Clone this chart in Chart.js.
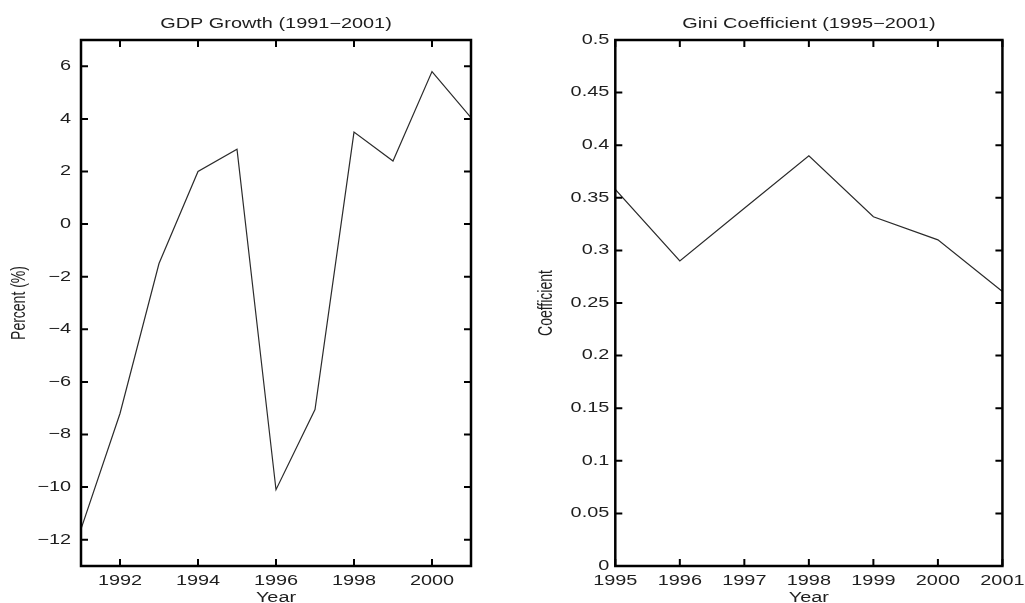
<!DOCTYPE html>
<html>
<head>
<meta charset="utf-8">
<script src="https://cdn.jsdelivr.net/npm/chart.js@4.4.1/dist/chart.umd.min.js"></script>
<style>
  html, body { margin: 0; padding: 0; background: #fff; width: 1025px; height: 603px; overflow: hidden; }
  .box { position: absolute; top: 0; width: 510px; height: 603px; }
  #boxL { left: 0; }
  #boxR { left: 515px; }
</style>
</head>
<body>
<div class="box" id="boxL"><canvas id="gdp"></canvas></div>
<div class="box" id="boxR"><canvas id="gini"></canvas></div>
<script>
// ---- data ----
const gdpYears = [1991, 1992, 1993, 1994, 1995, 1996, 1997, 1998, 1999, 2000, 2001];
const gdpGrowth = [-11.6, -7.2, -1.5, 2.0, 2.85, -10.1, -7.05, 3.5, 2.4, 5.8, 4.05];
const gdpXTicks = [1992, 1994, 1996, 1998, 2000];
const gdpYTicks = [-12, -10, -8, -6, -4, -2, 0, 2, 4, 6];

const giniYears = [1995, 1996, 1997, 1998, 1999, 2000, 2001];
const giniValues = [0.358, 0.29, 0.34, 0.39, 0.332, 0.31, 0.261];
const giniXTicks = [1995, 1996, 1997, 1998, 1999, 2000, 2001];
const giniYTicks = [0, 0.05, 0.1, 0.15, 0.2, 0.25, 0.3, 0.35, 0.4, 0.45, 0.5];

const FONT = "'Liberation Sans', Arial, Helvetica, sans-serif";
const TEXT = '#1e1e1e';
const STRETCH = 1.42;

// horizontally stretched text, as in the reference picture
function stretchText(ctx, sx) {
  const orig = ctx.fillText.bind(ctx);
  ctx.fillText = function (text, x, y, maxWidth) {
    const m = ctx.getTransform();
    const p = m.transformPoint(new DOMPoint(x, y));
    ctx.save();
    ctx.setTransform(new DOMMatrix().translate(p.x, p.y).scale(sx, 1).translate(-p.x, -p.y).multiply(m));
    if (maxWidth === undefined || maxWidth === null) orig(text, x, y); else orig(text, x, y, maxWidth);
    ctx.restore();
  };
}

const framePlugin = {
  id: 'frame',
  afterDraw(chart) {
    const { ctx, chartArea: a, scales } = chart;
    const x = scales.x, y = scales.y;
    const L = 7;
    ctx.save();
    ctx.strokeStyle = '#000';
    ctx.lineWidth = 2;
    ctx.beginPath();
    x.ticks.forEach(t => {
      const px = x.getPixelForValue(t.value);
      ctx.moveTo(px, a.bottom); ctx.lineTo(px, a.bottom - L);
      ctx.moveTo(px, a.top); ctx.lineTo(px, a.top + L);
    });
    y.ticks.forEach(t => {
      const py = y.getPixelForValue(t.value);
      ctx.moveTo(a.left, py); ctx.lineTo(a.left + L, py);
      ctx.moveTo(a.right, py); ctx.lineTo(a.right - L, py);
    });
    ctx.stroke();
    ctx.lineWidth = 2.5;
    ctx.strokeRect(a.left, a.top, a.right - a.left, a.bottom - a.top);
    ctx.restore();
  }
};

const fmtMinus = v => String(v).replace('-', '\u2212');

function makeChart(id, cfg) {
  const canvas = document.getElementById(id);
  stretchText(canvas.getContext('2d'), STRETCH);
  return new Chart(canvas, {
    type: 'line',
    data: {
      datasets: [{
        data: cfg.xs.map((xv, i) => ({ x: xv, y: cfg.ys[i] })),
        borderColor: '#2b2b2b',
        borderWidth: 1.2,
        pointRadius: 0,
        tension: 0,
        fill: false
      }]
    },
    options: {
      responsive: true,
      maintainAspectRatio: false,
      animation: false,
      events: [],
      layout: { padding: { left: 0, right: cfg.padRight, top: 0, bottom: 0 } },
      plugins: {
        legend: { display: false },
        tooltip: { enabled: false },
        title: {
          display: true,
          text: cfg.title,
          fullSize: false,
          color: TEXT,
          font: { family: FONT, size: 14, weight: 'normal', lineHeight: 1.2 },
          padding: { top: 15.6, bottom: 7.6 }
        }
      },
      scales: {
        x: {
          type: 'linear',
          min: cfg.xMin, max: cfg.xMax,
          afterBuildTicks: s => { s.ticks = cfg.xTicks.map(v => ({ value: v })); },
          afterFit: s => { s.height = 37; },
          grid: { display: false, drawTicks: false, drawOnChartArea: false },
          border: { display: false },
          ticks: {
            color: TEXT, padding: 7, autoSkip: false, maxRotation: 0,
            font: { family: FONT, size: 14 },
            callback: v => String(v)
          },
          title: {
            display: true, text: 'Year', color: TEXT,
            font: { family: FONT, size: 14, lineHeight: 1 },
            padding: { top: 0, bottom: -2 }
          }
        },
        y: {
          type: 'linear',
          min: cfg.yMin, max: cfg.yMax,
          afterBuildTicks: s => { s.ticks = cfg.yTicks.map(v => ({ value: v })); },
          afterFit: s => { s.width = cfg.yWidth; },
          grid: { display: false, drawTicks: false, drawOnChartArea: false },
          border: { display: false },
          ticks: {
            color: TEXT, padding: cfg.yPad, autoSkip: false,
            font: { family: FONT, size: 14 },
            callback: cfg.yFmt
          },
          title: {
            display: true, text: cfg.yTitle, color: TEXT,
            font: { family: FONT, size: 14, lineHeight: 1 },
            padding: { top: cfg.yTitlePad, bottom: 0 }
          }
        }
      }
    },
    plugins: [framePlugin]
  });
}

makeChart('gdp', {
  xs: gdpYears, ys: gdpGrowth,
  title: 'GDP Growth (1991\u22122001)',
  xMin: 1991, xMax: 2001, yMin: -13, yMax: 7,
  xTicks: gdpXTicks, yTicks: gdpYTicks,
  yWidth: 81, yPad: 10, yTitle: 'Percent (%)', yTitlePad: 13,
  padRight: 39,
  yFmt: v => fmtMinus(v)
});

makeChart('gini', {
  xs: giniYears, ys: giniValues,
  title: 'Gini Coefficient (1995\u22122001)',
  xMin: 1995, xMax: 2001, yMin: 0, yMax: 0.5,
  xTicks: giniXTicks, yTicks: giniYTicks,
  yWidth: 100.3, yPad: 6, yTitle: 'Coefficient', yTitlePad: 25,
  padRight: 20,
  yFmt: v => String(Number(v.toFixed(2)))
});
</script>
</body>
</html>
